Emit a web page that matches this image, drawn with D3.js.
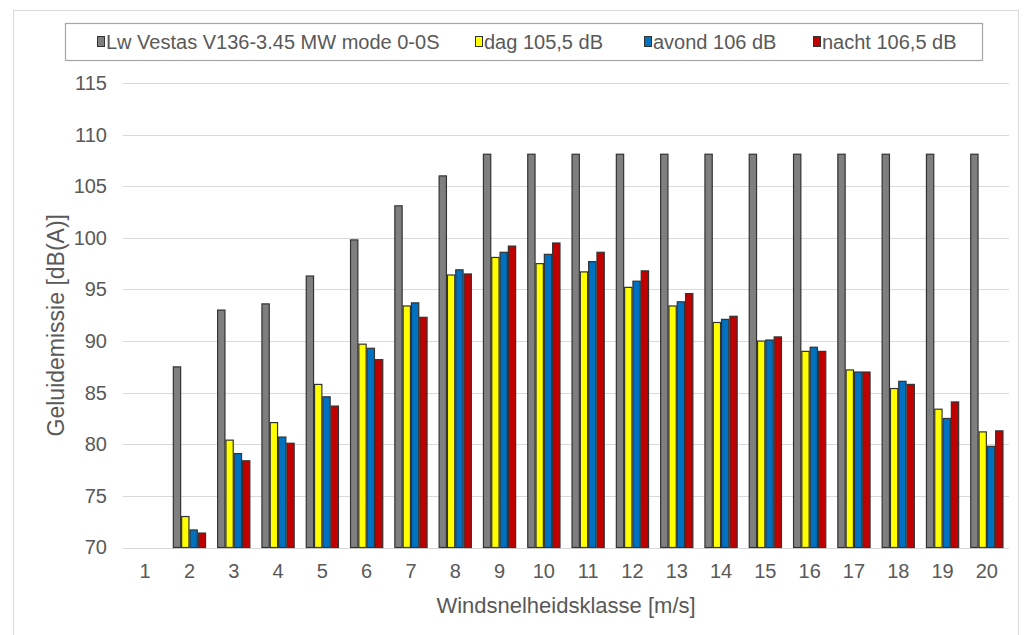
<!DOCTYPE html>
<html>
<head>
<meta charset="utf-8">
<script src="https://cdn.jsdelivr.net/npm/d3@7"></script>
<style>
    body { margin: 0; background: #fff; }
    svg { display: block; font-family: 'Liberation Sans', Arial, sans-serif; }
</style>
</head>
<body>
<div class="Canvas"></div>
<script>
// windsnelheidsklasse 1..20 (m/s)
let categories = ['1', '2', '3', '4', '5', '6', '7', '8', '9', '10', '11', '12', '13', '14', '15', '16', '17', '18', '19', '20'];
let seriesNames = ['Lw Vestas V136-3.45 MW mode 0-0S', 'dag 105,5 dB', 'avond 106 dB', 'nacht 106,5 dB'];
let seriesColors = ['#7f7f7f', '#ffff00', '#0070c0', '#c00000'];

// values, null = no bar
let lwVestas = [null, 87.5, 93.0, 93.6, 96.3, 99.8, 103.1, 106.0, 108.1, 108.1, 108.1, 108.1, 108.1, 108.1, 108.1, 108.1, 108.1, 108.1, 108.1, 108.1];
let dag = [null, 73.0, 80.4, 82.1, 85.8, 89.7, 93.4, 96.4, 98.1, 97.5, 96.7, 95.2, 93.4, 91.8, 90.0, 89.0, 87.2, 85.4, 83.4, 81.2];
let avond = [null, 71.7, 79.1, 80.7, 84.6, 89.3, 93.7, 96.9, 98.6, 98.4, 97.7, 95.8, 93.8, 92.1, 90.1, 89.4, 87.0, 86.1, 82.5, 79.8];
let nacht = [null, 71.4, 78.4, 80.1, 83.7, 88.2, 92.3, 96.5, 99.2, 99.5, 98.6, 96.8, 94.6, 92.4, 90.4, 89.0, 87.0, 85.8, 84.1, 81.3];
let yTicks = [70, 75, 80, 85, 90, 95, 100, 105, 110, 115];

let width = 1029;
let height = 635;
let plotLeft = 123;
let plotRight = 1009;
let plotTop = 83;
let plotBottom = 547.5;
let textColor = '#595959';
let gridColor = '#d9d9d9';

let svg = d3.select('.Canvas').append('svg').attr('width', width).attr('height', height);

// outer chart frame
svg.append('rect')
    .attr('x', 13.5).attr('y', 10.5)
    .attr('width', 1005).attr('height', 640)
    .attr('fill', 'none').attr('stroke', '#d9d9d9').attr('stroke-width', 1);

let x = d3.scaleBand().domain(categories).range([plotLeft, plotRight]).paddingInner(0.25).paddingOuter(0.125);
let xSeries = d3.scaleBand().domain(d3.range(4)).range([0, x.bandwidth()]);
let y = d3.scaleLinear().domain([70, 115]).range([plotBottom, plotTop]);

// gridlines
svg.append('g')
    .selectAll('line')
    .data(yTicks)
    .enter()
    .append('line')
    .attr('x1', plotLeft).attr('x2', plotRight)
    .attr('y1', (d) => Math.round(y(d)) + 0.5)
    .attr('y2', (d) => Math.round(y(d)) + 0.5)
    .attr('stroke', gridColor)
    .attr('stroke-width', 1);

// y axis labels
let yAxis = svg.append('g')
    .attr('transform', `translate(${plotLeft},0)`)
    .call(d3.axisLeft(y).tickValues(yTicks).tickSize(0).tickPadding(16));
yAxis.select('.domain').remove();
yAxis.selectAll('text').attr('fill', textColor).attr('font-size', '20px').attr('font-family', 'Liberation Sans, Arial, sans-serif');

// x axis labels
let xAxis = svg.append('g')
    .attr('transform', `translate(0,${plotBottom})`)
    .call(d3.axisBottom(x).tickSize(0).tickPadding(16));
xAxis.select('.domain').remove();
xAxis.selectAll('text').attr('fill', textColor).attr('font-size', '20px').attr('font-family', 'Liberation Sans, Arial, sans-serif');

// bars
let allSeries = [lwVestas, dag, avond, nacht];
let bars = [];
for (let s = 0; s < allSeries.length; s++) {
    for (let i = 0; i < categories.length; i++) {
        if (allSeries[s][i] != null) bars.push({ series: s, cat: categories[i], value: allSeries[s][i] });
    }
}

svg.append('g')
    .selectAll('rect')
    .data(bars)
    .enter()
    .append('rect')
    .attr('x', (d) => x(d.cat) + xSeries(d.series) + 0.5)
    .attr('y', (d) => y(d.value))
    .attr('width', xSeries.bandwidth() - 1)
    .attr('height', (d) => plotBottom - y(d.value))
    .attr('fill', (d) => seriesColors[d.series])
    .attr('stroke', '#333')
    .attr('stroke-width', 1.2);

// axis titles
svg.append('text')
    .attr('x', (plotLeft + plotRight) / 2)
    .attr('y', 613)
    .attr('text-anchor', 'middle')
    .attr('fill', textColor)
    .attr('font-size', '22px')
    .text('Windsnelheidsklasse [m/s]');

svg.append('text')
    .attr('transform', `translate(64,${(plotTop + plotBottom) / 2 + 10}) rotate(-90)`)
    .attr('text-anchor', 'middle')
    .attr('fill', textColor)
    .attr('font-size', '23px')
    .text('Geluidemissie [dB(A)]');

// legend
svg.append('rect')
    .attr('x', 65.5).attr('y', 23.5)
    .attr('width', 917).attr('height', 37)
    .attr('fill', '#fff').attr('stroke', '#a6a6a6').attr('stroke-width', 1.2);

let legendX = [97, 475, 644, 813];
let legend = svg.append('g')
    .selectAll('g')
    .data(seriesNames)
    .enter()
    .append('g')
    .attr('transform', (d, i) => `translate(${legendX[i]},42)`);
legend.append('rect')
    .attr('x', 0.5).attr('y', -5.5)
    .attr('width', 7).attr('height', 10)
    .attr('fill', (d, i) => seriesColors[i])
    .attr('stroke', '#333')
    .attr('stroke-width', 1);
legend.append('text')
    .attr('x', 9)
    .attr('y', 7)
    .attr('fill', textColor)
    .attr('font-size', '20px')
    .text((d) => d);
</script>
</body>
</html>
